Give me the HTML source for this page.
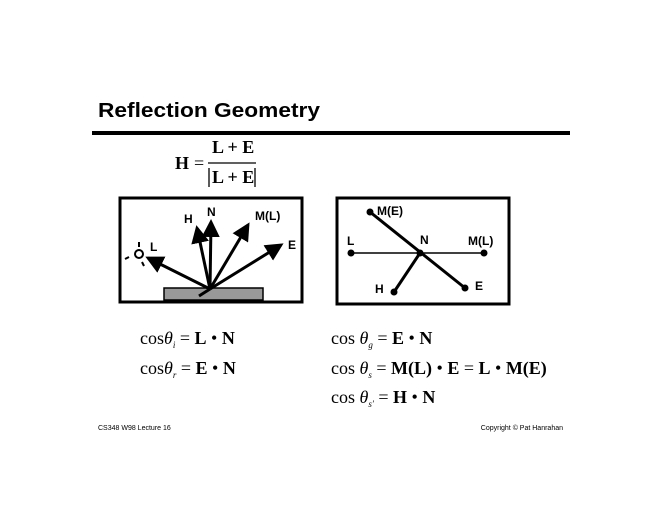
<!DOCTYPE html>
<html><head><meta charset="utf-8"><style>
body{margin:0;background:#fff;}
svg{display:block}
.t{font-family:"Liberation Sans",sans-serif;font-weight:bold}
.m{font-family:"Liberation Serif",serif;font-size:18px}
</style></head><body>
<svg width="660" height="510" viewBox="0 0 660 510" xmlns="http://www.w3.org/2000/svg">
<defs><marker id="a" markerWidth="6" markerHeight="6" refX="5" refY="3" orient="auto" markerUnits="strokeWidth"><path d="M0,0 L6,3 L0,6 z" fill="#000"/></marker></defs>
<text class="t" x="98" y="117" font-size="20" textLength="222" lengthAdjust="spacingAndGlyphs">Reflection Geometry</text>
<rect x="92" y="131" width="478" height="4" fill="#000"/>
<g class="m" font-weight="bold">
<text x="175" y="169">H</text>
<text x="194" y="169" font-weight="normal">=</text>
<text x="212" y="153">L + E</text>
<line x1="208" y1="163" x2="256" y2="163" stroke="#000" stroke-width="1.3"/>
<text x="212" y="183">L + E</text>
<line x1="209" y1="168" x2="209" y2="187" stroke="#000" stroke-width="1.3"/>
<line x1="255" y1="168" x2="255" y2="187" stroke="#000" stroke-width="1.3"/>
</g>
<!-- left box -->
<rect x="120" y="198" width="182" height="104" fill="none" stroke="#000" stroke-width="3"/>
<rect x="164" y="288" width="99" height="12" fill="#999" stroke="#000" stroke-width="1.5"/>
<g stroke="#000" stroke-width="3" fill="none">
<line x1="210" y1="289" x2="148" y2="258" marker-end="url(#a)"/>
<line x1="210" y1="289" x2="197" y2="228" marker-end="url(#a)"/>
<line x1="210" y1="289" x2="211" y2="222" marker-end="url(#a)"/>
<line x1="210" y1="289" x2="248" y2="225" marker-end="url(#a)"/>
<line x1="210" y1="289" x2="281" y2="245" marker-end="url(#a)"/>
<line x1="210" y1="289" x2="199" y2="296"/>
<circle cx="139" cy="254" r="4" stroke-width="2"/>
<line x1="139" y1="242" x2="139" y2="247" stroke-width="2"/>
<line x1="125" y1="259" x2="129" y2="257" stroke-width="2"/>
<line x1="142" y1="262" x2="144" y2="266" stroke-width="2"/>
</g>
<g class="t" font-size="12">
<text x="150" y="251">L</text>
<text x="184" y="223">H</text>
<text x="207" y="216">N</text>
<text x="255" y="220">M(L)</text>
<text x="288" y="249">E</text>
</g>
<!-- right box -->
<rect x="337" y="198" width="172" height="106" fill="none" stroke="#000" stroke-width="3"/>
<g stroke="#000">
<line x1="351" y1="253" x2="484" y2="253" stroke-width="1.5"/>
<line x1="370" y1="212" x2="465" y2="288" stroke-width="3"/>
<line x1="420" y1="253" x2="394" y2="292" stroke-width="3"/>
</g>
<g fill="#000">
<circle cx="351" cy="253" r="3.5"/><circle cx="484" cy="253" r="3.5"/>
<circle cx="370" cy="212" r="3.5"/><circle cx="465" cy="288" r="3.5"/>
<circle cx="394" cy="292" r="3.5"/><circle cx="420" cy="253" r="3.5"/>
</g>
<g class="t" font-size="12">
<text x="377" y="215">M(E)</text>
<text x="347" y="245">L</text>
<text x="420" y="244">N</text>
<text x="468" y="245">M(L)</text>
<text x="375" y="293">H</text>
<text x="475" y="290">E</text>
</g>
<!-- equations -->
<g class="m">
<text x="140" y="344">cos<tspan font-style="italic">θ</tspan><tspan font-size="9" font-style="italic" dy="4">i</tspan><tspan dy="-4"> = </tspan><tspan font-weight="bold">L</tspan> • <tspan font-weight="bold">N</tspan></text>
<text x="140" y="374">cos<tspan font-style="italic">θ</tspan><tspan font-size="9" font-style="italic" dy="4">r</tspan><tspan dy="-4"> = </tspan><tspan font-weight="bold">E</tspan> • <tspan font-weight="bold">N</tspan></text>
<text x="331" y="344">cos <tspan font-style="italic">θ</tspan><tspan font-size="9" font-style="italic" dy="4">g</tspan><tspan dy="-4"> = </tspan><tspan font-weight="bold">E</tspan> • <tspan font-weight="bold">N</tspan></text>
<text x="331" y="374">cos <tspan font-style="italic">θ</tspan><tspan font-size="9" font-style="italic" dy="4">s</tspan><tspan dy="-4"> = </tspan><tspan font-weight="bold">M(L)</tspan> • <tspan font-weight="bold">E</tspan> = <tspan font-weight="bold">L</tspan> • <tspan font-weight="bold">M(E)</tspan></text>
<text x="331" y="403">cos <tspan font-style="italic">θ</tspan><tspan font-size="9" font-style="italic" dy="4">s′</tspan><tspan dy="-4"> = </tspan><tspan font-weight="bold">H</tspan> • <tspan font-weight="bold">N</tspan></text>
</g>
<text x="98" y="430" font-family="Liberation Sans,sans-serif" font-size="7">CS348 W98 Lecture 16</text>
<text x="563" y="430" font-family="Liberation Sans,sans-serif" font-size="7" text-anchor="end">Copyright © Pat Hanrahan</text>
</svg>
</body></html>
